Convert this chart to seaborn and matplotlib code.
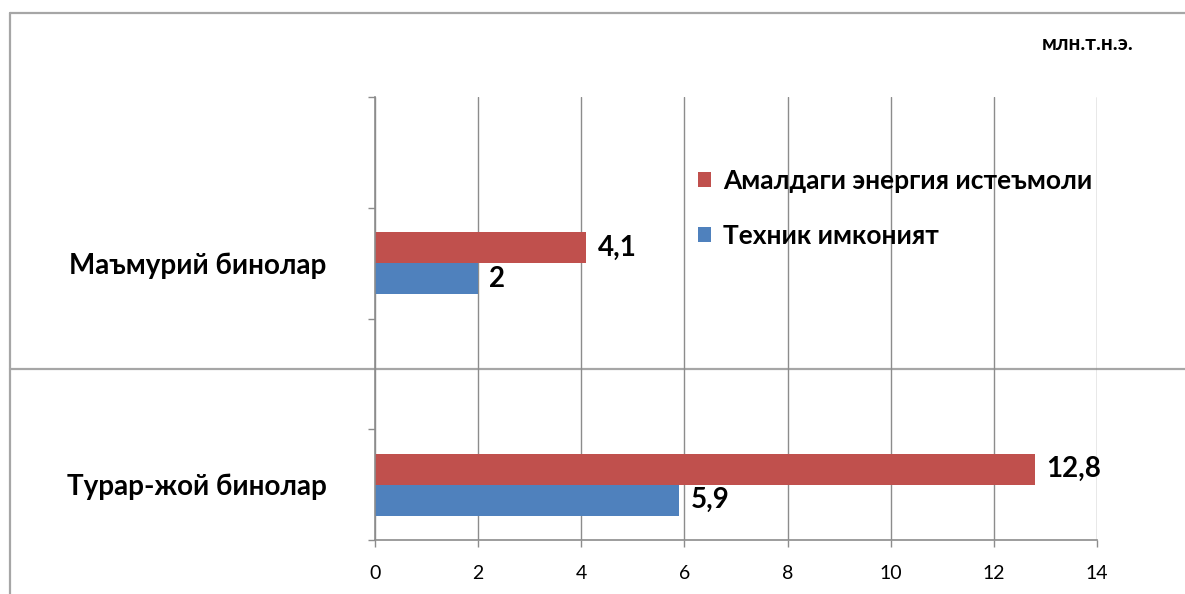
import matplotlib
matplotlib.use("Agg")
import matplotlib.pyplot as plt
from matplotlib.lines import Line2D
from matplotlib.ticker import FixedLocator
import numpy as np
import pandas as pd
import seaborn as sns

# Category slots from top to bottom (blank slots keep the spacing of the layout)
categories = ["", "Маъмурий бинолар", " ", "Турар-жой бинолар"]
series_names = ["Амалдаги энергия истеъмоли", "Техник имконият"]
actual_use = [4.1, 12.8]          # Маъмурий, Турар-жой
technical_potential = [2.0, 5.9]  # Маъмурий, Турар-жой
value_labels_actual = ["4,1", "12,8"]
value_labels_potential = ["2", "5,9"]
x_ticks = [0, 2, 4, 6, 8, 10, 12, 14]
unit_label = "млн.т.н.э."

colors = ["#C0504D", "#4F81BD"]
grid_gray = "#8C8C8C"
frame_gray = "#A6A6A6"
FONT = ["Lato", "DejaVu Sans"]

W, H = 1185, 594
sns.set_theme(style="white")
plt.rcParams["font.family"] = FONT
plt.rcParams["text.color"] = "black"
plt.rcParams["xtick.color"] = "black"
plt.rcParams["ytick.color"] = "black"

real_cats = [categories[1], categories[3]]
df = pd.DataFrame({
    "category": real_cats * 2,
    "series": [series_names[0]] * 2 + [series_names[1]] * 2,
    "value": actual_use + technical_potential,
})

fig = plt.figure(figsize=(W / 100, H / 100), dpi=100)
fig.patch.set_facecolor("white")


def fx(px):
    return px / W


def fy(py):
    return 1 - py / H


# slide frame lines
fig.add_artist(Line2D([fx(10), 1.0], [fy(13), fy(13)], color=frame_gray, lw=1.6, zorder=0))
fig.add_artist(Line2D([fx(10), fx(10)], [fy(13), 0.0], color=frame_gray, lw=1.6, zorder=0))
fig.add_artist(Line2D([fx(10), 1.0], [fy(369), fy(369)], color=frame_gray, lw=1.6, zorder=0))

ax = fig.add_axes([fx(375), fy(540), (1097 - 375) / W, (540 - 97) / H])
ax.patch.set_alpha(0)

sns.barplot(
    data=df, x="value", y="category", hue="series",
    order=categories, hue_order=series_names, palette=colors,
    orient="h", width=0.56, saturation=1, errorbar=None,
    edgecolor="none", ax=ax,
)

ax.set_xlim(0, 14)
ax.set_ylim(3.5, -0.5)
ax.xaxis.set_major_locator(FixedLocator(x_ticks))
ax.set_xticklabels([str(t) for t in x_ticks], fontsize=14)
ax.grid(axis="x", color=grid_gray, lw=1.0)
ax.set_axisbelow(True)
ax.set_xlabel("")
ax.set_ylabel("")

# category labels at slot centres, tick marks at slot boundaries
ax.yaxis.set_major_locator(FixedLocator(range(len(categories))))
ax.set_yticklabels(categories, fontsize=20, fontweight="bold")
ax.yaxis.set_minor_locator(FixedLocator(np.arange(-0.5, len(categories), 1.0)))
ax.tick_params(axis="y", which="major", length=0, pad=35)
ax.tick_params(axis="y", which="minor", length=5, width=1, color=grid_gray, left=True)
ax.tick_params(axis="x", which="major", length=5, width=1, color=grid_gray, bottom=True, pad=13)

for side in ["top", "right"]:
    ax.spines[side].set_visible(False)
for side in ["left", "bottom"]:
    ax.spines[side].set_color(grid_gray)
    ax.spines[side].set_linewidth(1.2)

# value labels at the end of each bar
for cont, labels in zip(ax.containers, [value_labels_actual, value_labels_potential]):
    ax.bar_label(cont, labels=labels, padding=8, fontsize=20, fontweight="bold")

handles, labels = ax.get_legend_handles_labels()
if ax.get_legend() is not None:
    ax.get_legend().remove()
fig.legend(
    handles, labels, loc="upper left",
    bbox_to_anchor=(fx(698), fy(169)), frameon=False,
    prop={"weight": "bold", "size": 19, "family": FONT},
    handlelength=0.5, handleheight=0.5, handletextpad=0.45,
    labelspacing=1.18, borderpad=0, borderaxespad=0,
)

fig.text(fx(1042), fy(44), unit_label, fontsize=15, fontweight="bold",
         va="center", ha="left")

fig.savefig("out.png", dpi=100, facecolor="white")
